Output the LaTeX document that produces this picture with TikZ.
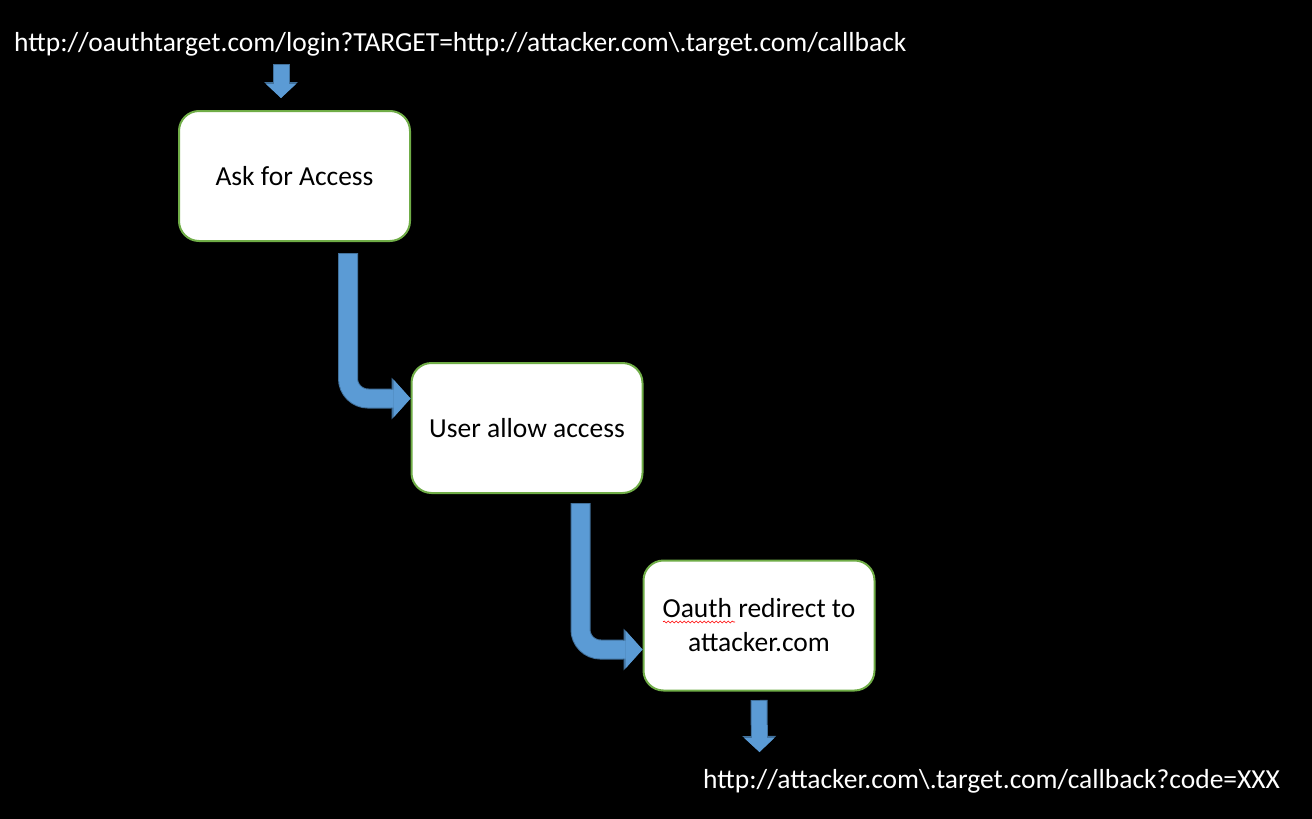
\documentclass[tikz,border=0pt]{standalone}
\usepackage{fontspec}
\setmainfont{Carlito}
\usetikzlibrary{arrows.meta,calc,positioning,decorations.pathmorphing}
\definecolor{boxgreen}{HTML}{70AD47}
\definecolor{flowblue}{HTML}{5B9BD5}
\definecolor{flowedge}{HTML}{41719C}

\begin{document}
\begin{tikzpicture}[x=1pt,y=-1pt,
stepbox/.style={draw=boxgreen,line width=2pt,fill=white,rounded corners=20pt,
 minimum width=231pt,minimum height=130pt,inner sep=0pt,align=center,
 font=\fontsize{27.5}{34}\selectfont,text=black},
url/.style={text=white,font=\fontsize{27.5}{33}\selectfont,inner sep=0pt,anchor=base west},
flow/.style={line width=18pt,draw=flowblue,rounded corners=20pt,shorten <=1pt,
 -{Triangle[length=17pt,width=38pt,line width=0pt]},
 preaction={draw=flowedge,line width=20pt,shorten <=0pt,
 -{Triangle[length=19pt,width=42pt,line width=0pt]}}},
drop/.style={line width=15pt,draw=flowblue,shorten <=1pt,
 -{Triangle[length=14pt,width=30pt,line width=0pt]},
 preaction={draw=flowedge,line width=17pt,shorten <=0pt,
 -{Triangle[length=16pt,width=34pt,line width=0pt]}}}]
\fill[black] (0,0) rectangle (1312,819);
\useasboundingbox (0,0) rectangle (1312,819);
\node[url] (login) at (14,51) {http://oauthtarget.com/login?TARGET=http://attacker.com\textbackslash.target.com/callback};
\node[stepbox] (ask) at (294.5,176) {Ask for Access};
\node[stepbox] (allow) at (527,428) {User allow access};
\node[stepbox] (redirect) at (759,625.5) {Oauth redirect to\\attacker.com};
\node[url] (callback) at (703,788) {http://attacker.com\textbackslash.target.com/callback?code=XXX};
\coordinate (in) at (281,64);
\coordinate (out) at (759.5,752);
\draw[drop] (in) -- ([yshift=12pt]in |- ask.north);
\draw[flow] ([xshift=53.5pt,yshift=-11pt]ask.south) |- ([yshift=29.5pt]allow.west);
\draw[flow] ([xshift=53.5pt,yshift=-9pt]allow.south) |- ([yshift=-24pt]redirect.west);
\draw[drop] ([yshift=-8.5pt]redirect.south) -- (out);
% spell-check underline
\draw[red,line width=0.6pt,decorate,decoration={snake,amplitude=1pt,segment length=4pt}]
 (663,622) -- (735,622);
\end{tikzpicture}
\end{document}
